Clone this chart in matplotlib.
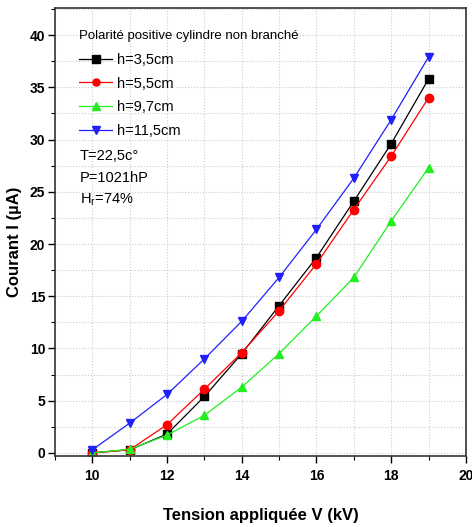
import matplotlib
matplotlib.use("Agg")
import matplotlib.pyplot as plt
from matplotlib.ticker import MultipleLocator

plt.rcParams["font.family"] = ["Liberation Sans", "DejaVu Sans"]

# Data
tension = [10, 11, 12, 13, 14, 15, 16, 17, 18, 19]
courant_h35 = [0.0, 0.3, 1.8, 5.4, 9.5, 14.1, 18.7, 24.1, 29.6, 35.8]
courant_h55 = [0.0, 0.3, 2.7, 6.1, 9.6, 13.6, 18.1, 23.3, 28.4, 34.0]
courant_h97 = [0.0, 0.35, 1.7, 3.6, 6.3, 9.5, 13.1, 16.8, 22.2, 27.3]
courant_h115 = [0.3, 2.85, 5.6, 9.0, 12.6, 16.8, 21.4, 26.3, 31.9, 37.9]

series = [
    ("h=3,5cm", courant_h35, "black", "s"),
    ("h=5,5cm", courant_h55, "#ff0000", "o"),
    ("h=9,7cm", courant_h97, "#22ee22", "^"),
    ("h=11,5cm", courant_h115, "#2020ff", "v"),
]

fig = plt.figure(figsize=(4.72, 5.27), dpi=100)
ax = fig.add_axes([0.1165, 0.1347, 0.8705, 0.8501])

for label, vals, color, marker in series:
    ax.plot(tension, vals, color=color, marker=marker, markersize=6,
            linewidth=0.9, label=label)

ax.set_xlim(9, 20)
ax.set_ylim(-0.3, 42.6)
ax.xaxis.set_major_locator(MultipleLocator(2))
ax.xaxis.set_minor_locator(MultipleLocator(1))
ax.yaxis.set_major_locator(MultipleLocator(5))
ax.yaxis.set_minor_locator(MultipleLocator(2.5))
ax.set_xticks([10, 12, 14, 16, 18, 20])

ax.tick_params(which="major", direction="out", length=5, width=1, labelsize=10, pad=2)
ax.tick_params(axis="x", which="major", pad=4)
ax.tick_params(which="minor", direction="out", length=3, width=0.8)
for lab in ax.get_xticklabels() + ax.get_yticklabels():
    lab.set_fontweight("bold")

ax.grid(True, which="both", color="#cccccc", linestyle=":", linewidth=0.8)
ax.set_axisbelow(True)
for sp in ax.spines.values():
    sp.set_linewidth(1.2)
    sp.set_color("#333333")

ax.set_xlabel("Tension appliquée V (kV)", fontsize=12, fontweight="bold", labelpad=18)
ax.set_ylabel("Courant I (µA)", fontsize=12, fontweight="bold")
ax.yaxis.set_label_coords(-0.080, 0.478)

leg = ax.legend(loc="upper left", bbox_to_anchor=(0.058, 0.952), frameon=False,
                title="Polarité positive cylindre non branché", alignment="left",
                fontsize=10.5, title_fontsize=9.5, handlelength=2.3,
                handletextpad=0.35, labelspacing=0.68, borderaxespad=0,
                borderpad=0, markerscale=0.85)
leg._legend_box.sep = 8

for ypos, txt in [(0.670, "T=22,5c°"), (0.621, "P=1021hP"),
                  (0.571, r"$\mathregular{H_r}$=74%")]:
    ax.text(0.061, ypos, txt, transform=ax.transAxes, fontsize=10.5, va="center")

fig.savefig("out.png", dpi=100)
